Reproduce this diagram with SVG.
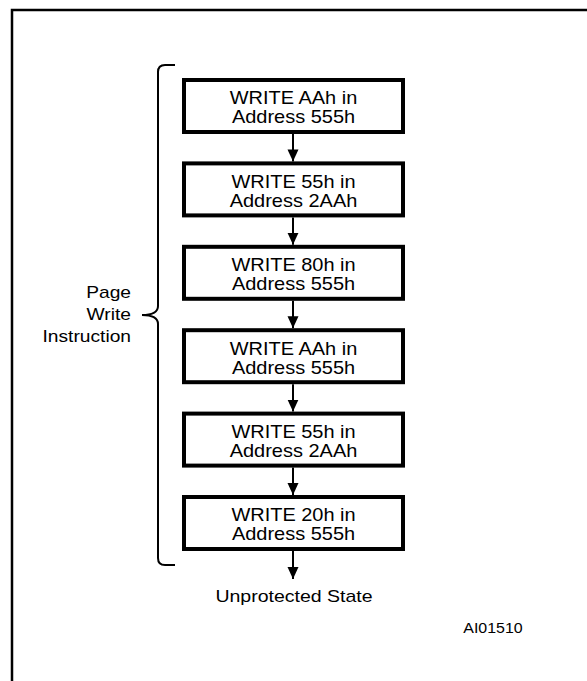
<svg xmlns="http://www.w3.org/2000/svg" width="587" height="681" viewBox="0 0 587 681">
<defs>
<style>
text{font-family:"Liberation Sans",Arial,sans-serif;fill:#000}
.bt{font-size:18px;text-anchor:middle}
.box{fill:#fff;stroke:#000;stroke-width:4}
.ln{stroke:#000;stroke-width:2;fill:none}
</style>
<marker id="arr" markerWidth="12" markerHeight="12" refX="12" refY="6" orient="auto" markerUnits="userSpaceOnUse" viewBox="0 0 12 12"><path d="M0,0.5 L12,6 L0,11.5 Z" fill="#000"/></marker>
</defs>
<rect width="587" height="681" fill="#fff"/>
<rect x="12" y="10" width="620" height="720" fill="none" stroke="#000" stroke-width="2.5"/>
<g id="brace"><path class="ln" d="M175,65 L165,65 Q158,65 158,72 L158,306 Q158,315 142,315 Q158,315 158,324 L158,558 Q158,565 165,565 L175,565"/></g>
<g id="label-page-write" transform="translate(131,0) scale(1.2,1)">
<text x="0" y="298.5" font-size="16" text-anchor="end">Page</text>
<text x="0" y="320.5" font-size="16" text-anchor="end">Write</text>
<text x="0" y="342" font-size="16" text-anchor="end">Instruction</text>
</g>
<g id="connectors">
<line class="ln" x1="293" y1="134" x2="293" y2="161.4" marker-end="url(#arr)"/>
<line class="ln" x1="293" y1="217.4" x2="293" y2="244.8" marker-end="url(#arr)"/>
<line class="ln" x1="293" y1="300.8" x2="293" y2="328.2" marker-end="url(#arr)"/>
<line class="ln" x1="293" y1="384.2" x2="293" y2="411.6" marker-end="url(#arr)"/>
<line class="ln" x1="293" y1="467.6" x2="293" y2="495" marker-end="url(#arr)"/>
<line class="ln" x1="293" y1="551" x2="293" y2="579" marker-end="url(#arr)"/>
</g>
<g id="n1"><rect class="box" x="184" y="80" width="219" height="52"/>
<g transform="translate(293.5,0) scale(1.11,1)"><text class="bt" x="0" y="104.5">WRITE AAh in</text><text class="bt" x="0" y="123.5">Address 555h</text></g></g>
<g id="n2"><rect class="box" x="184" y="163.4" width="219" height="52"/>
<g transform="translate(293.5,0) scale(1.11,1)"><text class="bt" x="0" y="187.9">WRITE 55h in</text><text class="bt" x="0" y="206.9">Address 2AAh</text></g></g>
<g id="n3"><rect class="box" x="184" y="246.8" width="219" height="52"/>
<g transform="translate(293.5,0) scale(1.11,1)"><text class="bt" x="0" y="271.3">WRITE 80h in</text><text class="bt" x="0" y="290.3">Address 555h</text></g></g>
<g id="n4"><rect class="box" x="184" y="330.2" width="219" height="52"/>
<g transform="translate(293.5,0) scale(1.11,1)"><text class="bt" x="0" y="354.7">WRITE AAh in</text><text class="bt" x="0" y="373.7">Address 555h</text></g></g>
<g id="n5"><rect class="box" x="184" y="413.6" width="219" height="52"/>
<g transform="translate(293.5,0) scale(1.11,1)"><text class="bt" x="0" y="438.1">WRITE 55h in</text><text class="bt" x="0" y="457.1">Address 2AAh</text></g></g>
<g id="n6"><rect class="box" x="184" y="497" width="219" height="52"/>
<g transform="translate(293.5,0) scale(1.11,1)"><text class="bt" x="0" y="521.5">WRITE 20h in</text><text class="bt" x="0" y="540.5">Address 555h</text></g></g>
<g id="end" transform="translate(294,0) scale(1.22,1)"><text x="0" y="602" font-size="16" text-anchor="middle">Unprotected State</text></g>
<g id="ref" transform="translate(493,0) scale(1.14,1)"><text x="0" y="633.5" font-size="14" text-anchor="middle">AI01510</text></g>
</svg>
